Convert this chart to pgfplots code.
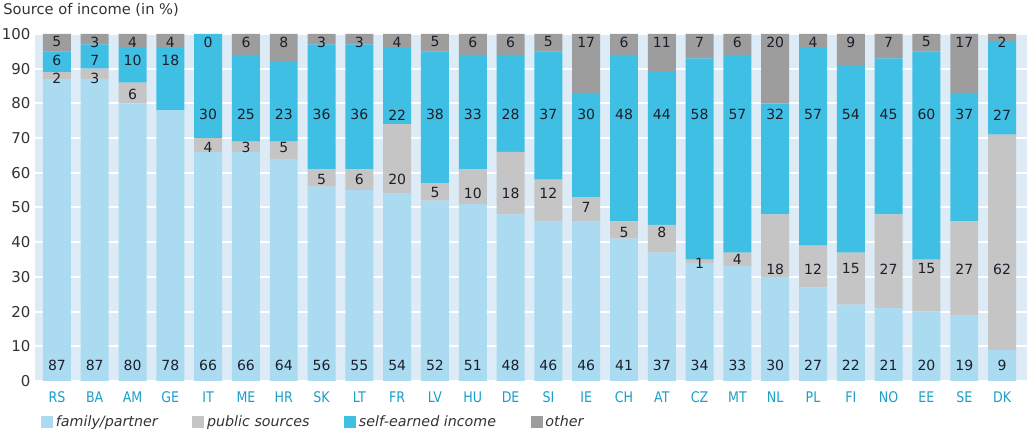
\documentclass[border=0pt]{standalone}
\usepackage{pgfplots}
\pgfplotsset{compat=1.18}
\usepackage{pgfplotstable}
\usepackage{fontspec}
\setmainfont{DejaVu Sans}
\newfontfamily\condfont[FakeStretch=0.86]{DejaVu Sans}
\definecolor{bgc}{HTML}{DCEBF5}
\definecolor{famc}{HTML}{ABDBF0}
\definecolor{pubc}{HTML}{C5C5C5}
\definecolor{selfc}{HTML}{40BFE4}
\definecolor{othc}{HTML}{9D9D9D}
\definecolor{tealc}{HTML}{1A9FC9}
\definecolor{numc}{HTML}{1E1E2A}
\definecolor{txtc}{HTML}{333333}

\pgfplotstableread{
x fam pub self oth
0 87 2 6 5
1 87 3 7 3
2 80 6 10 4
3 78 0 18 4
4 66 4 30 0
5 66 3 25 6
6 64 5 23 8
7 56 5 36 3
8 55 6 36 3
9 54 20 22 4
10 52 5 38 5
11 51 10 33 6
12 48 18 28 6
13 46 12 37 5
14 46 7 30 17
15 41 5 48 6
16 37 8 44 11
17 34 1 58 7
18 33 4 57 6
19 30 18 32 20
20 27 12 57 4
21 22 15 54 9
22 21 27 45 7
23 20 15 60 5
24 19 27 37 17
25 9 62 27 2
}\datatable

\pgfplotstableread{
x y t
0 4.6 87
1 4.6 87
2 4.6 80
3 4.6 78
4 4.6 66
5 4.6 66
6 4.6 64
7 4.6 56
8 4.6 55
9 4.6 54
10 4.6 52
11 4.6 51
12 4.6 48
13 4.6 46
14 4.6 46
15 4.6 41
16 4.6 37
17 4.6 34
18 4.6 33
19 4.6 30
20 4.6 27
21 4.6 22
22 4.6 21
23 4.6 20
24 4.6 19
25 4.6 9
}\famlab

\pgfplotstableread{
x y t
0 87.3 2
1 87.3 3
2 82.7 6
4 67.4 4
5 67.4 3
6 67.4 5
7 58.2 5
8 58.0 6
9 58.0 20
10 54.2 5
11 54.2 10
12 54.2 18
13 54.2 12
14 49.9 7
15 42.9 5
16 42.9 8
17 34.0 1
18 34.9 4
19 32.3 18
20 32.3 12
21 32.3 15
22 32.3 27
23 32.3 15
24 32.3 27
25 32.3 62
}\publab

\pgfplotstableread{
x y t
0 92.5 6
1 92.5 7
2 92.5 10
3 92.5 18
4 76.7 30
5 76.7 25
6 76.7 23
7 76.7 36
8 76.7 36
9 76.7 22
10 76.7 38
11 76.7 33
12 76.7 28
13 76.7 37
14 76.7 30
15 76.7 48
16 76.7 44
17 76.7 58
18 76.7 57
19 76.7 32
20 76.7 57
21 76.7 54
22 76.7 45
23 76.7 60
24 76.7 37
25 76.7 27
}\selflab

\pgfplotstableread{
x y t
0 97.7 5
1 97.7 3
2 97.7 4
3 97.7 4
4 97.7 0
5 97.7 6
6 97.7 8
7 97.7 3
8 97.7 3
9 97.7 4
10 97.7 5
11 97.7 6
12 97.7 6
13 97.7 5
14 97.7 17
15 97.7 6
16 97.7 11
17 97.7 7
18 97.7 6
19 97.7 20
20 97.7 4
21 97.7 9
22 97.7 7
23 97.7 5
24 97.7 17
25 97.7 2
}\othlab

\pgfplotsset{
  common/.style={
    scale only axis,
    width=744pt, height=260.25pt,
    xmin=-0.58, xmax=25.66,
    ymin=0, ymax=100,
    at={(0,0)}, anchor=south west,
  }
}

\begin{document}
\begin{tikzpicture}
\begin{axis}[
  common,
  ybar stacked,
  bar width=0.74,
  axis background/.style={fill=bgc},
  axis line style={draw=none},
  major tick length=0pt,
  ytick={0,10,...,100},
  ymajorgrids,
  grid style={white, line width=1.5pt},
  xtick={0,...,25},
  xticklabels={RS,BA,AM,GE,IT,ME,HR,SK,LT,FR,LV,HU,DE,SI,IE,CH,AT,CZ,MT,NL,PL,FI,NO,EE,SE,DK},
  xticklabel style={font=\condfont\fontsize{11}{13}\selectfont, text=tealc, anchor=base, yshift=-16pt},
  yticklabel style={font=\fontsize{11.2}{13}\selectfont, text=txtc},
  /pgf/number format/assume math mode=true,
  legend style={at={(axis description cs:0,0)}, anchor=west, xshift=4.5pt, yshift=-30.75pt,
    draw=none, fill=none, inner sep=0pt, font=\itshape\fontsize{10.7}{13}\selectfont, text=txtc,
    legend columns=4, /tikz/every even column/.append style={column sep=24pt}},
  legend cell align=left,
  legend image code/.code={\fill[#1] (0pt,-4.5pt) rectangle (9pt,4.5pt);},
]
\addplot[fill=famc, draw=none] table[x=x, y=fam] {\datatable};
\addplot[fill=pubc, draw=none] table[x=x, y=pub] {\datatable};
\addplot[fill=selfc, draw=none] table[x=x, y=self] {\datatable};
\addplot[fill=othc, draw=none] table[x=x, y=oth] {\datatable};
\legend{family/partner, public sources, self-earned income, other}
\end{axis}
\begin{axis}[
  common,
  hide axis,
  nodes near coords,
  point meta=explicit symbolic,
  every node near coord/.style={anchor=center, font=\fontsize{10.5}{12}\selectfont, text=numc},
]
\addplot[draw=none, mark=none] table[x=x, y=y, meta=t] {\famlab};
\addplot[draw=none, mark=none] table[x=x, y=y, meta=t] {\publab};
\addplot[draw=none, mark=none] table[x=x, y=y, meta=t] {\selflab};
\addplot[draw=none, mark=none] table[x=x, y=y, meta=t] {\othlab};
\end{axis}
\node[anchor=west, font=\fontsize{11}{13}\selectfont, text=txtc, inner sep=0pt] at (-24pt,278.25pt) {Source of income (in \%)};
\pgfresetboundingbox
\path[use as bounding box] (-26.25pt,-42.75pt) rectangle (744pt,285.75pt);
\end{tikzpicture}
\end{document}
